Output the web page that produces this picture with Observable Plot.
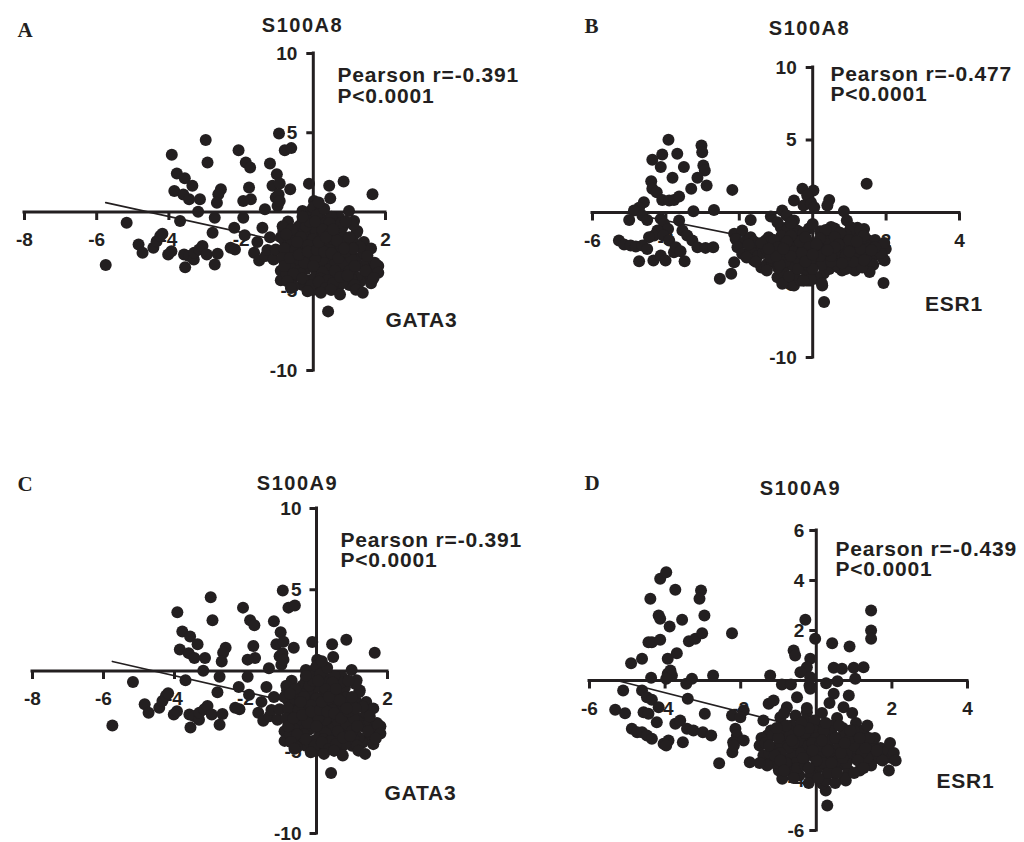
<!DOCTYPE html>
<html>
<head>
<meta charset="utf-8">
<script src="https://cdn.jsdelivr.net/npm/d3@7"></script>
<script src="https://cdn.jsdelivr.net/npm/@observablehq/plot@0.6"></script>
<style>
  body { margin: 0; background: #fff; }
  #chart { position: relative; width: 1024px; height: 842px; background: #fff; overflow: hidden; }
  .panel { position: absolute; }
</style>
</head>
<body>
<div id="chart"></div>
<script>
// ---- Data ----
// GATA3 (x) vs S100A8 / S100A9 (y): panels A and C show the same scatter
const gataPoints = [
  [-2.98,4.54],[-3.92,3.61],[-2.93,3.12],[-2.07,3.90],[-1.87,3.12],[-1.75,2.81],[-0.95,4.96],[-0.79,3.90],
  [-0.61,4.03],[-1.20,3.06],[-1.01,2.38],[-3.78,2.43],[-3.56,2.13],[-3.35,1.65],[-3.85,1.33],[-3.60,1.10],
  [-3.44,0.80],[-3.14,0.80],[-3.19,0.02],[-2.56,1.43],[-2.63,1.12],[-2.67,0.59],[-2.73,-0.36],[-1.78,1.54],
  [-1.73,0.80],[-1.94,0.70],[-1.94,-0.36],[-1.13,1.65],[-1.04,0.91],[-0.99,0.38],[-0.93,1.80],[-0.96,1.10],
  [-0.93,0.70],[-1.34,0.17],[-0.64,1.43],[-0.12,1.79],[0.44,1.65],[0.47,0.86],[0.84,1.92],[1.64,1.12],
  [0.02,0.70],[0.12,0.49],[-0.30,0.06],[-0.05,0.10],[0.08,0.40],[0.99,0.06],[0.72,-0.36],[1.13,-0.57],[1.22,-1.20],
  [-5.75,-3.35],[-5.17,-0.68],[-4.84,-2.05],[-4.73,-2.57],[-4.43,-2.26],[-4.34,-1.84],[-4.24,-1.52],[-4.18,-1.37],
  [-4.02,-2.68],[-3.93,-2.47],[-3.69,-0.57],[-3.58,-2.68],[-3.55,-3.48],[-3.44,-2.78],[-3.31,-3.00],[-3.30,-2.57],
  [-3.16,-2.36],[-3.07,-2.15],[-2.95,-2.68],[-2.73,-3.31],[-2.65,-2.64],[-2.79,-1.31],[-2.19,-0.99],[-2.17,-2.36],
  [-2.29,-2.26],[-1.90,-1.46],[-1.64,-2.57],[-1.55,-1.90],[-1.50,-3.06],[-1.32,-2.78],[-1.27,-2.40],[-1.41,-0.99],
  [-1.20,-1.60],[-1.10,-3.00],[-1.04,-2.36],[-0.83,-1.20],[-0.80,-1.80],[-0.72,-2.70],
  [-0.9,-1.6],[-0.7,-2.1],[-0.5,-1.2],[-0.3,-0.6],[-0.1,-0.3],[0.0,0.3],[0.1,-0.9],[0.3,-0.5],[0.2,-1.5],
  [-0.2,-1.9],[-0.6,-2.6],[-0.8,-3.1],[-0.9,-3.7],[-0.7,-4.1],[-0.4,-3.4],[-0.2,-2.8],[0.0,-2.2],[0.2,-2.6],
  [0.4,-1.9],[0.6,-1.4],[0.8,-1.0],[0.5,-2.9],[0.3,-3.3],[0.1,-3.8],[-0.1,-4.3],[-0.3,-4.6],[0.0,-4.9],
  [0.3,-4.4],[0.5,-4.0],[0.7,-3.5],[0.9,-3.0],[1.0,-2.4],[1.1,-1.8],[0.9,-2.0],[1.2,-2.9],[1.3,-3.4],
  [1.1,-3.9],[0.9,-4.3],[0.7,-4.7],[0.5,-4.9],[1.4,-2.6],[1.5,-3.1],[1.6,-3.6],[1.7,-3.2],[1.8,-3.4],
  [1.5,-4.0],[1.3,-4.4],[1.0,-4.6],[-0.5,-3.0],[-0.3,-2.4],[-0.6,-1.8],[-0.4,-0.9],[0.2,0.0],[0.4,-1.1],
  [0.6,-2.2],[0.8,-2.6],[-0.2,-3.6],[0.1,-3.1],[0.4,-3.6],[0.6,-3.1],[0.8,-3.8],[-0.8,-2.3],[-0.9,-4.3],
  [-0.6,-4.4],[-0.1,-1.4],[0.3,-2.1],[0.7,-0.7],[1.2,-1.3],[1.1,-0.8],[1.4,-1.9],[1.6,-2.3],[1.2,-4.1],
  [0.2,-4.7],[-0.4,-4.0],[0.0,-1.0],[0.5,-0.3],[-0.7,-0.6],
  [-0.85,-2.9],[-0.65,-3.5],[-0.45,-2.2],[-0.25,-1.2],[-0.05,-2.5],[0.15,-3.5],[0.35,-2.8],[0.55,-1.7],
  [0.75,-2.2],[0.95,-3.4],[-0.75,-3.9],[-0.55,-4.7],[-0.35,-3.9],[-0.15,-3.1],[0.05,-4.1],[0.25,-3.0],
  [0.45,-2.4],[0.65,-4.3],[0.85,-1.6],[1.05,-4.2],[-0.5,-1.5],[0.0,-1.7],[0.45,-0.7],[0.9,-0.6],
  [1.3,-2.2],[1.45,-3.7],[1.6,-4.5],[-0.2,-0.9],
  [-0.85,-0.9],[-0.6,-1.1],[-0.35,-1.6],[-0.15,-2.1],[0.05,-2.9],[0.25,-3.8],[0.45,-4.6],[0.65,-3.9],
  [0.85,-3.3],[1.05,-2.9],[-0.75,-1.4],[-0.5,-2.4],[-0.25,-3.2],[0.0,-3.4],[0.2,-4.2],[0.4,-4.3],
  [0.6,-3.7],[0.8,-4.5],[1.0,-3.7],[1.15,-3.4],[-0.8,-3.4],[-0.55,-3.9],[-0.3,-4.2],[-0.05,-4.6],
  [0.15,-4.4],[0.35,-4.8],[0.55,-4.5],[0.75,-4.1],[0.95,-4.0],[1.15,-4.6],[-0.65,-2.9],[-0.4,-2.7],
  [-0.15,-2.5],[0.1,-2.4],[0.3,-2.5],[0.5,-2.6],[0.7,-2.9],[0.9,-2.5],[1.1,-2.3],[-0.1,-0.6],
  [0.1,-0.2],[0.25,-1.1],[0.45,-1.4],[0.65,-1.8],[0.85,-2.3],[1.0,-1.6],[-0.45,-1.9],[0.15,-1.9],
  [0.35,-1.6],[0.55,-1.1],[0.05,-0.6],[-0.3,-0.3],[0.3,0.2],[0.15,0.6],
  [1.73,-3.31],[1.80,-3.84],[1.67,-4.16],[1.50,-2.78],[-0.16,-5.0],[0.21,-5.1],[0.49,-4.9],[0.74,-5.2],
  [1.18,-4.9],[1.37,-5.1],[0.41,-6.27],[-0.72,-4.37],[-0.62,-4.79]
];
const gataFit = [[-5.75, 0.59], [1.8, -3.19]];

// ESR1 (x) vs S100A8 (y): panel B
const esrA8Points = [
  [-3.93,5.01],[-3.03,4.62],[-3.01,4.16],[-2.98,3.24],[-2.94,2.90],[-2.89,1.86],[-4.10,4.00],[-4.37,3.63],
  [-4.14,3.13],[-3.69,4.05],[-3.51,3.13],[-3.82,2.39],[-3.14,2.39],[-3.31,1.63],[-4.40,2.16],[-4.37,1.63],
  [-4.25,1.40],[-4.10,0.87],[-3.91,0.83],[-3.78,0.87],[-3.64,1.10],[-4.60,0.71],[-4.73,0.32],[-4.87,0.14],
  [-3.25,0.09],[-2.69,0.18],[-2.19,1.56],
  [-5.00,-0.51],[-4.64,-0.21],[-4.51,-0.51],[-4.14,-0.44],[-4.05,-0.78],[-3.94,-1.13],[-4.23,-1.24],[-4.32,-1.59],
  [-4.46,-1.70],[-4.07,-1.59],[-3.91,-1.93],[-3.64,-0.55],[-3.55,-1.24],[-3.42,-1.59],[-3.28,-1.93],
  [-5.28,-1.93],[-5.14,-2.21],[-4.96,-2.28],[-4.82,-2.34],[-4.64,-2.28],[-4.51,-2.51],
  [-4.73,-3.36],[-4.34,-3.31],[-4.14,-2.97],[-4.01,-3.31],[-3.78,-2.74],[-3.49,-3.36],
  [-3.14,-2.39],[-2.92,-2.44],[-2.71,-2.39],[-3.73,-2.39],[-3.60,-2.67],
  [-2.14,-1.47],[-1.92,-1.24],[-2.10,-1.82],[-1.87,-2.05],[-2.05,-2.39],[-1.92,-2.85],[-2.14,-3.43],
  [-2.22,-4.23],[-2.53,-4.57],[-1.69,-0.51],
  [-1.14,-0.28],[-0.83,0.14],[-0.71,-0.21],[-0.51,0.83],[-0.28,1.63],[0.02,1.52],[-0.05,0.71],[-0.25,0.48],
  [0.45,0.87],[0.40,0.48],[0.85,0.09],[0.93,-0.55],[1.47,1.98],[1.93,-4.87],[0.31,-6.18],[-0.87,-4.57],
  [-0.64,-4.92],[1.99,-2.51],[1.96,-3.31],[1.40,-1.13],[1.22,-1.06],[1.04,-1.01],
  [-0.51,-0.55],[-0.69,-1.01],[-0.42,-1.24],[-0.87,-1.01],[-0.96,-0.67],[-0.15,1.17],[-0.05,0.60],[0.04,0.37],
  [-1.69,-1.70],[-1.51,-2.39],[-1.28,-1.93],[-1.60,-3.31],[-1.24,-3.54],[-1.05,-2.85],
  [-0.96,-4.46],[-0.83,-4.92],[-0.51,-5.03],[-0.33,-4.69],[0.04,-4.57],[0.26,-5.03],
  [-1.7,-2.6],[-1.5,-3.0],[-1.3,-2.3],[-1.1,-3.4],[-0.9,-2.0],[-0.8,-2.9],[-0.6,-3.6],[-0.5,-1.5],
  [-0.4,-2.5],[-0.3,-3.2],[-0.2,-4.0],[-0.1,-1.1],[0.0,-2.1],[0.1,-2.9],[0.2,-3.5],[0.3,-4.2],
  [0.4,-1.6],[0.5,-2.4],[0.6,-3.1],[0.7,-3.8],[0.8,-2.0],[0.9,-2.7],[1.0,-3.3],[1.1,-1.7],
  [1.2,-2.3],[1.3,-3.0],[1.4,-2.6],[1.5,-3.4],[1.6,-2.2],[1.7,-2.9],[1.8,-2.5],[1.9,-3.1],
  [-1.4,-3.8],[-1.2,-1.7],[-1.0,-2.6],[-0.7,-1.2],[-0.5,-4.3],[-0.3,-1.9],[-0.1,-3.7],[0.1,-4.5],
  [0.2,-1.3],[0.4,-3.0],[0.6,-1.1],[0.8,-4.0],[1.0,-1.3],[1.2,-3.7],[0.0,-0.8],[-0.2,-2.6],
  [0.3,-2.2],[0.7,-2.5],[1.1,-2.8],[1.5,-1.9],[-0.8,-4.1],[-1.6,-2.0],[-1.8,-3.1],[0.5,-1.0],
  [-0.6,-0.7],[0.9,-1.5],[1.3,-1.2],[1.7,-1.9],[0.15,-3.2],[-0.45,-2.9],[0.65,-3.4],[-0.05,-4.6],
  [0.25,-4.9],[-0.25,-4.7],
  [-1.75,-2.2],[-1.55,-3.4],[-1.35,-2.8],[-1.15,-2.0],[-0.95,-3.8],[-0.75,-2.6],[-0.55,-1.9],[-0.35,-3.5],
  [-0.15,-2.2],[0.05,-3.4],[0.25,-2.6],[0.45,-3.9],[0.65,-2.0],[0.85,-3.2],[1.05,-2.4],[1.25,-3.1],
  [1.45,-2.2],[1.65,-3.6],[1.85,-2.8],[1.95,-2.1],[-1.25,-4.0],[-0.65,-4.4],[0.35,-1.2],[0.75,-1.4],
  [1.15,-4.0],[1.55,-4.1],[-0.85,-1.6],[-0.25,-1.4],[0.95,-2.1],[1.35,-3.8],
  [-1.25,-2.6],[-1.05,-1.9],[-0.85,-3.2],[-0.65,-2.3],[-0.45,-3.1],[-0.25,-2.4],[-0.05,-3.2],[0.15,-2.4],
  [0.35,-3.2],[0.55,-2.8],[0.75,-3.0],[0.95,-3.5],[1.15,-2.2],[1.35,-2.8],[1.5,-2.5],[-1.15,-3.1],
  [-0.95,-2.4],[-0.75,-3.4],[-0.55,-2.7],[-0.35,-2.0],[-0.15,-2.9],[0.05,-2.6],[0.25,-3.6],[0.45,-2.0],
  [0.65,-3.6],[0.85,-2.4],[1.05,-3.0],[1.25,-2.7],[1.45,-3.1],[-0.6,-1.6],[-0.2,-1.7],[0.2,-1.8],
  [0.6,-1.7],[1.0,-1.9],[1.4,-1.6],[-0.9,-3.6],[-0.4,-3.9],[0.0,-3.9],[0.5,-3.4],[0.9,-3.9],
  [-0.1,-2.4],[0.3,-2.8],[0.7,-2.2],[1.1,-3.4],
  [-1.4,-2.1],[-1.0,-3.0],[-0.7,-2.0],[-0.3,-2.8],[0.1,-2.2],[0.5,-3.0],[0.9,-3.0],[1.3,-2.5],
  [1.7,-2.4],[-0.6,-3.0],[-0.2,-3.4],[0.2,-3.0],[0.6,-2.4],[1.0,-2.7],[1.4,-3.3],[-1.2,-2.5],
  [-0.8,-2.5],[0.0,-2.9],[0.4,-2.6],[0.8,-3.5],[1.2,-2.0],[1.6,-2.6]
];
const esrA8Fit = [[-5.14, 0.02], [2.0, -3.62]];

// ESR1 (x) vs S100A9 (y): panel D
const esrA9Points = [
  [-4.13,4.07],[-3.97,4.33],[-3.73,3.63],[-4.39,3.27],[-3.05,3.60],[-3.09,3.27],[-2.96,2.60],
  [-4.17,2.60],[-4.13,2.47],[-3.88,2.16],[-3.55,2.43],[-4.44,1.53],[-4.35,1.53],[-4.13,1.63],
  [-3.37,1.57],[-3.20,1.67],[-3.02,1.89],[-2.23,1.89],[-3.69,1.09],[-3.93,0.87],[-4.90,0.69],[-4.61,0.87],
  [-3.93,0.27],[-3.86,0.40],[-3.82,0.20],[-3.97,0.07],[-3.44,-0.13],[-3.29,0.07],[-2.73,0.20],[-4.37,0.11],
  [-1.22,0.20],[-0.91,-0.16],[-0.67,-0.16],[-0.29,2.43],[-0.60,1.20],[-0.56,1.00],[-0.03,1.67],
  [-0.16,0.87],[-0.25,0.53],[-0.42,0.33],[-0.16,0.13],[0.42,1.49],[0.88,1.36],[1.45,2.80],[1.45,2.00],
  [1.45,1.67],[0.46,0.51],[0.68,0.47],[0.99,0.51],[1.25,0.53],[0.26,-0.11],[0.56,-0.03],[1.03,0.07],
  [0.46,-0.53],[0.86,-0.60],[0.72,-1.07],[-0.18,-0.20],[-0.16,-0.33],
  [-5.11,-0.40],[-5.32,-1.17],[-5.06,-1.31],[-4.61,-0.40],[-4.48,-0.67],[-4.35,-0.77],[-4.57,-1.27],
  [-4.44,-1.33],[-4.22,-1.67],[-4.17,-1.07],[-4.88,-1.93],[-4.74,-2.07],[-4.61,-2.07],[-4.48,-2.20],
  [-4.35,-2.33],[-4.04,-2.53],[-3.91,-2.40],[-3.97,-2.60],[-3.73,-1.73],[-3.60,-1.60],[-3.42,-1.93],
  [-3.25,-2.00],[-3.53,-2.47],[-3.00,-2.07],[-2.78,-2.20],[-3.40,-0.73],[-2.95,-1.33],
  [-2.23,-1.40],[-1.92,-1.20],[-2.01,-1.47],[-2.14,-1.93],[-2.10,-2.20],[-2.20,-2.47],[-1.92,-2.40],
  [-1.26,-0.93],[-1.13,-0.80],[-0.95,-1.47],[-0.78,-1.07],[-0.51,-0.67],[-0.25,-1.27],
  [-2.57,-3.31],[-1.76,-3.27],[-2.22,-2.87],[-2.18,-2.60],[-0.99,-3.60],[-0.90,-3.93],[-0.63,-3.73],
  [0.25,-4.40],[0.29,-5.00],[0.16,-4.13],[0.78,-4.00],[1.92,-3.60],[1.88,-3.07],[1.66,-2.93],
  [-1.5,-2.6],[-1.4,-3.0],[-1.3,-2.2],[-1.2,-3.3],[-1.1,-2.7],[-1.0,-1.9],[-0.9,-3.1],[-0.8,-2.4],
  [-0.7,-3.5],[-0.6,-2.0],[-0.5,-2.8],[-0.4,-3.3],[-0.3,-1.6],[-0.2,-2.3],[-0.1,-3.0],[0.0,-3.6],
  [0.1,-1.8],[0.2,-2.6],[0.3,-3.2],[0.4,-2.1],[0.5,-2.9],[0.6,-3.4],[0.7,-1.9],[0.8,-2.5],
  [0.9,-3.1],[1.0,-2.2],[1.1,-2.8],[1.2,-3.3],[1.3,-2.4],[1.4,-2.9],[1.5,-2.6],[1.6,-3.1],
  [1.7,-2.7],[1.8,-3.0],[1.9,-2.8],[2.0,-3.1],[2.05,-2.9],[-1.2,-2.0],[-0.95,-2.5],[-0.65,-3.0],
  [-0.35,-2.6],[-0.15,-3.8],[0.05,-2.2],[0.25,-4.0],[0.45,-3.7],[0.65,-2.7],[0.85,-3.6],[1.05,-1.7],
  [1.25,-2.0],[1.45,-3.4],[-0.55,-1.4],[-0.25,-1.1],[0.15,-1.3],[0.55,-1.5],[0.95,-1.3],[1.35,-1.8],
  [-1.4,-1.6],[-0.85,-1.3],[0.35,-0.9],[0.0,-2.7],[-0.45,-3.8],[0.75,-3.9],[-1.0,-3.5],[1.15,-3.6],
  [-0.05,-1.6],[0.6,-2.3],
  [-1.45,-2.3],[-1.25,-2.9],[-1.05,-3.3],[-0.85,-2.1],[-0.75,-2.7],[-0.55,-3.3],[-0.45,-2.4],[-0.25,-3.0],
  [-0.05,-2.0],[0.15,-2.9],[0.35,-2.4],[0.55,-3.2],[0.75,-2.2],[0.95,-2.7],[1.15,-2.5],[1.35,-3.1],
  [1.55,-2.3],[1.75,-3.2],[1.95,-2.5],[0.45,-1.8],[-0.65,-1.8],[0.1,-3.4],[-0.3,-2.1],[0.8,-3.3],
  [1.6,-2.8],[2.1,-3.2],
  [-1.35,-2.5],[-1.15,-2.2],[-0.95,-2.9],[-0.8,-3.3],[-0.6,-2.5],[-0.4,-2.9],[-0.2,-2.6],[0.0,-2.3],
  [0.2,-3.3],[0.4,-2.8],[0.6,-2.6],[0.8,-2.9],[1.0,-2.6],[1.2,-2.9],[1.4,-2.3],[-1.3,-3.4],
  [-1.1,-3.0],[-0.9,-2.2],[-0.7,-2.2],[-0.5,-3.5],[-0.3,-3.4],[-0.1,-2.5],[0.1,-2.6],[0.3,-2.8],
  [0.5,-2.3],[0.7,-3.1],[0.9,-2.3],[1.1,-3.2],[1.3,-2.7],[-0.2,-1.9],[0.2,-2.0],[0.6,-1.8],
  [1.0,-2.0],[-0.8,-1.8],[-0.4,-1.7],[0.3,-3.7],[-0.2,-4.1],[0.5,-4.1],[-0.6,-3.9],[1.0,-3.7],
  [0.0,-3.2],[-1.0,-2.3],
  [-1.5,-3.3],[-1.25,-2.6],[-0.95,-3.2],[-0.65,-2.4],[-0.35,-3.1],[-0.1,-2.8],[0.15,-2.4],[0.4,-3.3],
  [0.65,-2.9],[0.9,-2.0],[1.15,-2.3],[-0.85,-3.6],[-0.45,-2.0],[0.05,-3.9],[0.55,-3.7],[-1.05,-1.9],
  [0.25,-1.7],[0.75,-2.5],[1.25,-3.5],[-0.2,-3.5]
];
const esrA9Fit = [[-5.3, 0.01], [2.05, -2.82]];

// Tick values and labels
const gataXTicks = [-8, -6, -4, -2, 2];
const esrXTicks = [-6, -4, -2, 2, 4];
const tenYTicks = [10, 5, -5, -10];
const sixYTicks = [6, 4, 2, -2, -4, -6];

// Texts
const panelLetters = ["A", "B", "C", "D"];
const yGenes = ["S100A8", "S100A8", "S100A9", "S100A9"];
const xGenes = ["GATA3", "ESR1", "GATA3", "ESR1"];
const pearsonR = ["-0.391", "-0.477", "-0.391", "-0.439"];
const pValues = ["P<0.0001", "P<0.0001", "P<0.0001", "P<0.0001"];

// ---- Layout (pixel positions are style, not data) ----
const ink = "#231f20";
const sans = "'Liberation Sans', Arial, Helvetica, sans-serif";
const serif = "'Liberation Serif', 'Times New Roman', serif";

const panels = [
  { left: 0, top: 0, ml: 24, mr: 127, mt: 53, mb: 51, xDomain: [-8, 2], yDomain: [-10, 10],
    points: gataPoints, fit: gataFit, xTicks: gataXTicks, yTicks: tenYTicks, yLabelDx: -16,
    letterPos: [17, 29.5], titlePos: [302, 25.5], pearsonPos: [337, 85.5], xNamePos: [421, 319.5] },
  { left: 512, top: 0, ml: 80, mr: 65, mt: 67, mb: 64, xDomain: [-6, 4], yDomain: [-10, 10],
    points: esrA8Points, fit: esrA8Fit, xTicks: esrXTicks, yTicks: tenYTicks, yLabelDx: -16,
    letterPos: [72, 26], titlePos: [297, 28.5], pearsonPos: [318, 84], xNamePos: [441.5, 304] },
  { left: 0, top: 421, ml: 32, mr: 125, mt: 87, mb: 9, xDomain: [-8, 2], yDomain: [-10, 10],
    points: gataPoints, fit: gataFit, xTicks: gataXTicks, yTicks: tenYTicks, yLabelDx: -15,
    letterPos: [17, 63], titlePos: [297, 62.5], pearsonPos: [340, 129], xNamePos: [420, 371.5] },
  { left: 512, top: 421, ml: 77, mr: 57, mt: 109, mb: 12, xDomain: [-6, 4], yDomain: [-6, 6],
    points: esrA9Points, fit: esrA9Fit, xTicks: esrXTicks, yTicks: sixYTicks, yLabelDx: -12,
    letterPos: [72, 62], titlePos: [288, 67], pearsonPos: [323, 138], xNamePos: [453, 360] }
];

const tickDown = { draw(ctx) { ctx.moveTo(0, 0); ctx.lineTo(0, 8); } };
const tickLeft = { draw(ctx) { ctx.moveTo(0, 0); ctx.lineTo(-7, 0); } };

const chart = document.getElementById("chart");

panels.forEach((p, i) => {
  const at = (pos) => ({ frameAnchor: "top-left", dx: pos[0] - p.ml, dy: pos[1] - p.mt });
  const svg = Plot.plot({
    width: 512,
    height: 421,
    marginLeft: p.ml, marginRight: p.mr, marginTop: p.mt, marginBottom: p.mb,
    x: { domain: p.xDomain, axis: null },
    y: { domain: p.yDomain, axis: null },
    style: { background: "transparent", overflow: "visible", fontFamily: sans, color: ink },
    marks: [
      // axes crossing at the origin
      Plot.ruleY([0], { x1: p.xDomain[0], x2: p.xDomain[1], stroke: ink, strokeWidth: 3, strokeLinecap: "square" }),
      Plot.ruleX([0], { y1: p.yDomain[0], y2: p.yDomain[1], stroke: ink, strokeWidth: 3, strokeLinecap: "square" }),
      Plot.dot(p.xTicks, { x: d => d, y: 0, symbol: tickDown, fill: "none", stroke: ink, strokeWidth: 3 }),
      Plot.dot(p.yTicks, { x: 0, y: d => d, symbol: tickLeft, fill: "none", stroke: ink, strokeWidth: 3 }),
      Plot.text(p.xTicks, { x: d => d, y: 0, text: d => `${d}`, dy: 28, fontSize: 19, fontWeight: "bold", fill: ink, lineAnchor: "middle" }),
      Plot.text(p.yTicks, { x: 0, y: d => d, text: d => `${d}`, dx: p.yLabelDx, textAnchor: "end", fontSize: 19, fontWeight: "bold", fill: ink, lineAnchor: "middle" }),
      // regression line
      Plot.line(p.fit, { x: d => d[0], y: d => d[1], stroke: ink, strokeWidth: 1.6 }),
      // scatter
      Plot.dot(p.points, { x: d => d[0], y: d => d[1], r: 6, fill: ink, stroke: "none" }),
      // annotations
      Plot.text([panelLetters[i]], { ...at(p.letterPos), text: d => d, textAnchor: "start", lineAnchor: "middle",
        fontFamily: serif, fontWeight: "bold", fontSize: 21, fill: ink }),
      Plot.text([yGenes[i]], { ...at(p.titlePos), text: d => d, textAnchor: "middle", lineAnchor: "middle",
        fontWeight: "bold", fontSize: 20, fill: ink }),
      Plot.text([`Pearson r=${pearsonR[i]}\n${pValues[i]}`], { ...at(p.pearsonPos), text: d => d, textAnchor: "start",
        lineAnchor: "middle", lineHeight: 0.97, fontWeight: "bold", fontSize: 21, fill: ink }),
      Plot.text([xGenes[i]], { ...at(p.xNamePos), text: d => d, textAnchor: "middle", lineAnchor: "middle",
        fontWeight: "bold", fontSize: 21, fill: ink })
    ]
  });
  // slightly widened lettering of the labels, as in the figure
  d3.select(svg).selectAll("text").each(function () {
    const t = this.textContent;
    if (/Pearson|S100|GATA|ESR/.test(t)) {
      d3.select(this).style("letter-spacing", /S100/.test(t) ? "1.5px" : "0.8px");
    }
  });
  const holder = document.createElement("div");
  holder.className = "panel";
  holder.style.left = p.left + "px";
  holder.style.top = p.top + "px";
  holder.appendChild(svg);
  chart.appendChild(holder);
});
</script>
</body>
</html>
